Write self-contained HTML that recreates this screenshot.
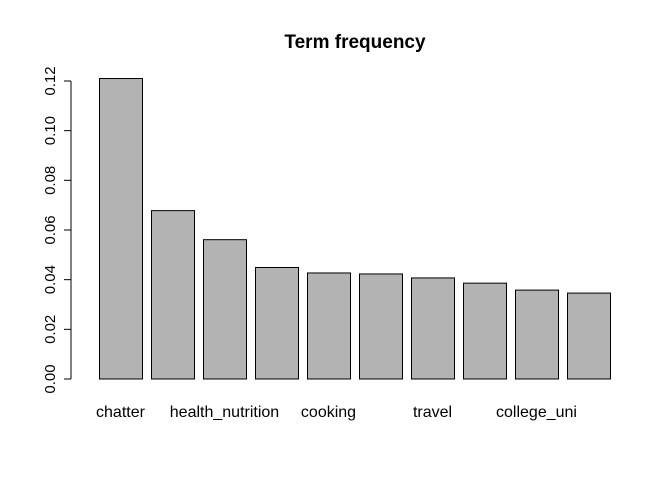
<!DOCTYPE html>
<html><head><meta charset="utf-8"><style>
body{margin:0;background:#fff;}
svg{display:block;font-family:"Liberation Sans",Arial,sans-serif;}
</style></head><body>
<svg id="chart" width="672" height="480">
<text x="355" y="48" text-anchor="middle" font-size="19" font-weight="bold">Term frequency</text>
<g id="yaxis"></g>
<g id="bars"></g>
<g id="xlabels"></g>
</svg>
<script>
const categories=["chatter","t2","health_nutrition","t4","cooking","t6","travel","t8","college_uni","t10"];
const values=[0.121,0.0678,0.0561,0.0449,0.0427,0.0423,0.0407,0.0386,0.0358,0.0346];
const showLabel=[true,false,true,false,true,false,true,false,true,false];
const yTicks=[0,0.02,0.04,0.06,0.08,0.10,0.12];
const yTickLabels=["0.00","0.02","0.04","0.06","0.08","0.10","0.12"];
const NS="http://www.w3.org/2000/svg";
function y(v){return 379-v*(298/0.12);}
function x(i){return 99+i*52;}
const bw=43;
const ya=document.getElementById('yaxis');
let l=document.createElementNS(NS,'line');
l.setAttribute('x1',71);l.setAttribute('x2',71);l.setAttribute('y1',y(0));l.setAttribute('y2',y(0.12));
l.setAttribute('stroke','#000');


ya.appendChild(l);
yTicks.forEach((t,i)=>{
 const tk=document.createElementNS(NS,'line');
 tk.setAttribute('x1',64);tk.setAttribute('x2',71);tk.setAttribute('y1',y(t));tk.setAttribute('y2',y(t));tk.setAttribute('stroke','#000');
 
 
 ya.appendChild(tk);
 const tx=document.createElementNS(NS,'text');
 const yy=y(t);
 tx.setAttribute('transform','translate(55,'+yy+') rotate(-90)');
 tx.setAttribute('text-anchor','middle');tx.setAttribute('font-size','15');
 tx.textContent=yTickLabels[i];
 
 
 ya.appendChild(tx);
});
const bg=document.getElementById('bars'),xl=document.getElementById('xlabels');
values.forEach((v,i)=>{
 const r=document.createElementNS(NS,'rect');
 r.setAttribute('x',x(i)+0.5);r.setAttribute('y',y(v));r.setAttribute('width',bw);r.setAttribute('height',y(0)-y(v));
 r.setAttribute('fill','#b3b3b3');r.setAttribute('stroke','#000');r.setAttribute('stroke-width','1');
 
 
 bg.appendChild(r);
 if(showLabel[i]){
  const t=document.createElementNS(NS,'text');
  t.setAttribute('x',x(i)+bw/2);t.setAttribute('y',417);t.setAttribute('text-anchor','middle');t.setAttribute('font-size','16');
  t.textContent=categories[i];
  
  
  xl.appendChild(t);
 }
});
</script>
</body></html>
